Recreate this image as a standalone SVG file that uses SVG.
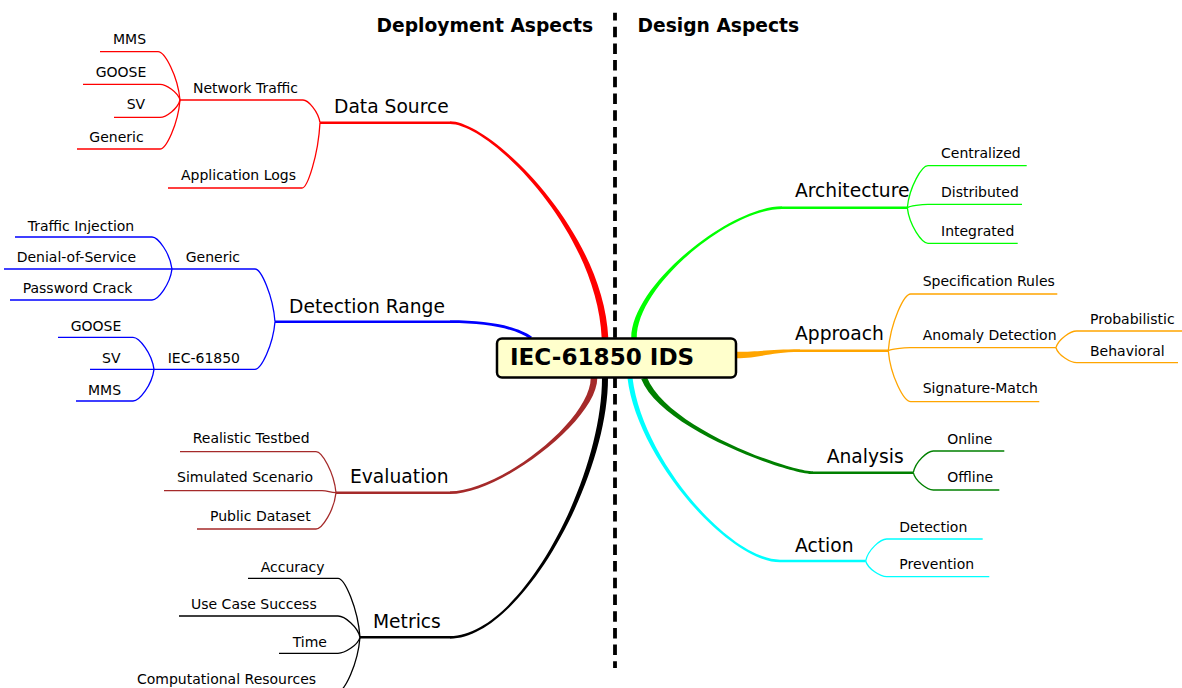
<svg xmlns="http://www.w3.org/2000/svg" width="1182" height="688" viewBox="0 0 1182 688">
  <style>
    text { font-family: "DejaVu Sans", "Liberation Sans", sans-serif; fill: #000; }
    .leaf { font-size: 14px; }
    .main { font-size: 18.7px; }
    .title { font-size: 18.7px; font-weight: bold; }
    .root { font-size: 23.1px; font-weight: bold; }
    .edge { fill: none; stroke-width: 1.3; }
    .trunk { fill: none; stroke-width: 2.6; }
    .red { stroke: #ff0000; }
    .blue { stroke: #0000ff; }
    .brown { stroke: #a52a2a; }
    .black { stroke: #000000; }
    .green { stroke: #00ff00; }
    .orange { stroke: #ffa500; }
    .dgreen { stroke: #008000; }
    .cyan { stroke: #00ffff; }
    .divider { stroke: #000; stroke-width: 3.8; stroke-dasharray: 10.5 6.2; stroke-dashoffset: 2.7; fill: none; }
    .box { fill: #ffffcc; stroke: #000; stroke-width: 2.5; }
  </style>

  <!-- vertical separator between the two halves -->
  <line class="divider" x1="615" y1="12.7" x2="615" y2="668"/>

  <g id="titles">
    <text class="title" x="376.5" y="31.7">Deployment Aspects</text>
    <text class="title" x="637.5" y="31.7">Design Aspects</text>
  </g>

  <g id="connectors">
    <!-- tapered main branches (root to first level) -->
    <path fill="#ff0000" d="M450,121.35 C490,121.35 603.3,229.85 608.3,337.85 L601.7,338.15 C596.7,230.15 490,124.05 450,124.05 Z"/>
    <path fill="#0000ff" d="M450,320.35 C490,320.35 518.98,326.73 531.98,336.73 L530.02,339.27 C517.02,329.27 490,323.05 450,323.05 Z"/>
    <path fill="#a52a2a" d="M450,491.35 C500,491.35 590.7,420 590.7,378 L597.3,378 C597.3,420 500,494.05 450,494.05 Z"/>
    <path fill="#000000" d="M450,635.95 C520,635.95 602,480 602,378 L608,378 C608,480 520,638.65 450,638.65 Z"/>
    <path fill="#00ff00" d="M782,209.05 C730,209.05 636.75,285 636.75,338 L631.25,338 C631.25,285 730,206.35 782,206.35 Z"/>
    <path fill="#ffa500" d="M800,352.05 C770,352.05 760,358.25 736,358.25 L736,351.75 C760,351.75 770,349.35 800,349.35 Z"/>
    <path fill="#008000" d="M813,474.05 C790,474.05 662.22,431.12 641.22,379.12 L646.78,376.88 C667.78,428.88 790,471.35 813,471.35 Z"/>
    <path fill="#00ffff" d="M780,562.35 C730,562.35 637.5,460.3 627.5,378.3 L632.5,377.7 C642.5,459.7 730,559.65 780,559.65 Z"/>

    <!-- first-level underlines -->
    <path class="trunk red" d="M320,122.7 H450"/>
    <path class="trunk blue" d="M275,321.7 H450"/>
    <path class="trunk brown" d="M336,492.7 H450"/>
    <path class="trunk black" d="M360,637.3 H450"/>
    <path class="trunk green" d="M907.3,207.7 H782"/>
    <path class="trunk orange" d="M888.3,350.7 H800"/>
    <path class="trunk dgreen" d="M913.3,472.7 H813"/>
    <path class="trunk cyan" d="M865.7,561 H780"/>

    <!-- Data Source -->
    <path class="edge red" d="M320,122.7 C318.3,111.35 308.1,100 303,100 H180"/>
    <path class="edge red" d="M320,122.7 C318.2,155.35 307.4,188 302,188 H168"/>
    <path class="edge red" d="M180,100 C177.8,75.85 164.6,51.7 158,51.7 H100"/>
    <path class="edge red" d="M180,100 C178,92.15 166,84.3 160,84.3 H83"/>
    <path class="edge red" d="M180,100 C178,108.65 166,117.3 160,117.3 H114"/>
    <path class="edge red" d="M180,100 C178,124.5 166,149 160,149 H77"/>

    <!-- Detection Range -->
    <path class="edge blue" d="M275,321.7 C273,295.35 261,269 255,269 H172"/>
    <path class="edge blue" d="M275,321.7 C273,345.5 261,369.3 255,369.3 H154"/>
    <path class="edge blue" d="M172,269 C170,253 158,237 152,237 H15"/>
    <path class="edge blue" d="M172,269 H4"/>
    <path class="edge blue" d="M172,269 C170,284.5 158,300 152,300 H10"/>
    <path class="edge blue" d="M154,369.3 C151.9,353.3 139.3,337.3 133,337.3 H58"/>
    <path class="edge blue" d="M154,369.3 H90"/>
    <path class="edge blue" d="M154,369.3 C151.9,385.15 139.3,401 133,401 H76"/>

    <!-- Evaluation -->
    <path class="edge brown" d="M336,492.7 C334,472.2 322,451.7 316,451.7 H180"/>
    <path class="edge brown" d="M336,492.7 C330,492.7 328,490.7 322,490.7 H164"/>
    <path class="edge brown" d="M336,492.7 C334,510.85 322,529 316,529 H197"/>

    <!-- Metrics -->
    <path class="edge black" d="M360,637.3 C357.8,607.8 344.6,578.3 338,578.3 H248"/>
    <path class="edge black" d="M360,637.3 C357.8,626.65 344.6,616 338,616 H179"/>
    <path class="edge black" d="M360,637.3 C357.8,645.3 344.6,653.3 338,653.3 H279"/>
    <path class="edge black" d="M360,637.3 C357.8,664.4 344.6,691.5 338,691.5 H125"/>

    <!-- Architecture -->
    <path class="edge green" d="M907.3,207.7 C909.4,186.7 921.8,165.7 928,165.7 H1026.7"/>
    <path class="edge green" d="M907.3,207.7 C909.4,206 921.8,204.3 928,204.3 H1022"/>
    <path class="edge green" d="M907.3,207.7 C909.4,225.5 921.8,243.3 928,243.3 H1017.7"/>

    <!-- Approach -->
    <path class="edge orange" d="M888.3,350.7 C890.5,322.35 904,294 910.7,294 H1057.3"/>
    <path class="edge orange" d="M888.3,350.7 C890.5,349.2 903.5,347.7 910,347.7 H1056"/>
    <path class="edge orange" d="M888.3,350.7 C890.5,376.2 904,401.7 910.7,401.7 H1039.3"/>
    <path class="edge orange" d="M1056,347.7 C1058.1,339.35 1070.5,331 1076.7,331 H1182"/>
    <path class="edge orange" d="M1056,347.7 C1058.1,355.2 1070.5,362.7 1076.7,362.7 H1178"/>

    <!-- Analysis -->
    <path class="edge dgreen" d="M913.3,472.7 C915.3,461.85 927.3,451 933.3,451 H1004.3"/>
    <path class="edge dgreen" d="M913.3,472.7 C915.3,481.35 927.3,490 933.3,490 H999.3"/>

    <!-- Action -->
    <path class="edge cyan" d="M865.7,561 C867.8,550 880.4,539 886.7,539 H982.7"/>
    <path class="edge cyan" d="M865.7,561 C867.8,568.85 880.4,576.7 886.7,576.7 H989.3"/>
  </g>

  <g id="root">
    <rect class="box" x="497" y="338.5" width="239" height="39" rx="5"/>
    <text class="root" x="510" y="365">IEC-61850 IDS</text>
  </g>

  <!-- Deployment side -->
  <g id="data-source"><text class="main" x="334" y="112.5">Data Source</text></g>
  <g id="network-traffic"><text class="leaf" x="193" y="92.7">Network Traffic</text></g>
  <g id="ds-mms"><text class="leaf" x="113" y="43.5">MMS</text></g>
  <g id="ds-goose"><text class="leaf" x="95.7" y="76.7">GOOSE</text></g>
  <g id="ds-sv"><text class="leaf" x="126.7" y="109.3">SV</text></g>
  <g id="ds-generic"><text class="leaf" x="89.3" y="142.3">Generic</text></g>
  <g id="application-logs"><text class="leaf" x="181" y="180">Application Logs</text></g>

  <g id="detection-range"><text class="main" x="289" y="313.3">Detection Range</text></g>
  <g id="dr-generic"><text class="leaf" x="185.7" y="262">Generic</text></g>
  <g id="traffic-injection"><text class="leaf" x="27.7" y="230.5">Traffic Injection</text></g>
  <g id="denial-of-service"><text class="leaf" x="16.7" y="262.3">Denial-of-Service</text></g>
  <g id="password-crack"><text class="leaf" x="22.7" y="293">Password Crack</text></g>
  <g id="dr-iec61850"><text class="leaf" x="167.7" y="363">IEC-61850</text></g>
  <g id="dr-goose"><text class="leaf" x="70.7" y="331">GOOSE</text></g>
  <g id="dr-sv"><text class="leaf" x="102" y="363.3">SV</text></g>
  <g id="dr-mms"><text class="leaf" x="88" y="395">MMS</text></g>

  <g id="evaluation"><text class="main" x="350" y="483.3">Evaluation</text></g>
  <g id="realistic-testbed"><text class="leaf" x="192.7" y="443.3">Realistic Testbed</text></g>
  <g id="simulated-scenario"><text class="leaf" x="177" y="482.3">Simulated Scenario</text></g>
  <g id="public-dataset"><text class="leaf" x="210" y="521">Public Dataset</text></g>

  <g id="metrics"><text class="main" x="373" y="628.3">Metrics</text></g>
  <g id="accuracy"><text class="leaf" x="260.7" y="571.7">Accuracy</text></g>
  <g id="use-case-success"><text class="leaf" x="191" y="609">Use Case Success</text></g>
  <g id="time"><text class="leaf" x="292.7" y="646.7">Time</text></g>
  <g id="computational-resources"><text class="leaf" x="137" y="684">Computational Resources</text></g>

  <!-- Design side -->
  <g id="architecture"><text class="main" x="795" y="197.3">Architecture</text></g>
  <g id="centralized"><text class="leaf" x="941" y="158.3">Centralized</text></g>
  <g id="distributed"><text class="leaf" x="941" y="196.7">Distributed</text></g>
  <g id="integrated"><text class="leaf" x="941" y="235.7">Integrated</text></g>

  <g id="approach"><text class="main" x="795" y="340">Approach</text></g>
  <g id="specification-rules"><text class="leaf" x="922.7" y="286">Specification Rules</text></g>
  <g id="anomaly-detection"><text class="leaf" x="922.7" y="340">Anomaly Detection</text></g>
  <g id="probabilistic"><text class="leaf" x="1090" y="324">Probabilistic</text></g>
  <g id="behavioral"><text class="leaf" x="1090" y="355.7">Behavioral</text></g>
  <g id="signature-match"><text class="leaf" x="922.7" y="393.3">Signature-Match</text></g>

  <g id="analysis"><text class="main" x="826.7" y="463.3">Analysis</text></g>
  <g id="online"><text class="leaf" x="947.3" y="444.3">Online</text></g>
  <g id="offline"><text class="leaf" x="947.3" y="481.7">Offline</text></g>

  <g id="action"><text class="main" x="795" y="551.7">Action</text></g>
  <g id="detection"><text class="leaf" x="899.3" y="532.3">Detection</text></g>
  <g id="prevention"><text class="leaf" x="899.3" y="569.3">Prevention</text></g>
</svg>
